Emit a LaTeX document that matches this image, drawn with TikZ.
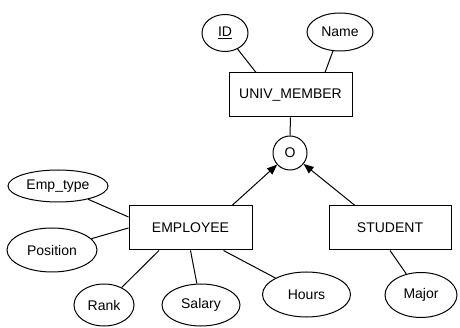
\documentclass[tikz,border=0pt]{standalone}
\usepackage{fontspec}
\setmainfont{Liberation Sans}
\usetikzlibrary{shapes.geometric,arrows.meta}
\begin{document}
\begin{tikzpicture}[x=1pt,y=-1pt,
  every node/.style={font=\fontsize{14}{16}\selectfont, inner sep=0pt},
  entity/.style={draw, line width=1pt, rectangle, minimum width=123pt, minimum height=44pt},
  attr/.style={draw, line width=1pt, ellipse},
  joint/.style={draw, line width=1pt, circle, minimum size=34pt},
  link/.style={line width=1pt},
  isa/.style={line width=1pt, -{Triangle[length=10pt,width=8pt]}}]
\useasboundingbox (0,0) rectangle (460,328);

% entities and the overlap circle
\node[entity] (univ) at (290.5,95) {UNIV\_MEMBER};
\node[joint] (ov) at (290,153) {O};
\node[entity] (employee) at (190.5,228) {EMPLOYEE};
\node[entity, minimum width=122pt] (student) at (390,228) {STUDENT};

% attributes
\node[attr, minimum width=46pt, minimum height=37pt] (id) at (225,33) {\underline{ID}};
\node[attr, minimum width=66pt, minimum height=38pt] (name) at (340,32) {Name};
\node[attr, minimum width=100pt, minimum height=32pt] (emptype) at (58,186) {Emp\_type};
\node[attr, minimum width=90pt, minimum height=44pt] (position) at (52,250) {Position};
\node[attr, minimum width=60pt, minimum height=42pt] (rank) at (104,305) {Rank};
\node[attr, minimum width=78pt, minimum height=42pt] (salary) at (201,305) {Salary};
\node[attr, minimum width=88pt, minimum height=45pt] (hours) at (306.5,294.5) {Hours};
\node[attr, minimum width=72pt, minimum height=45pt] (major) at (421,295) {Major};

% attribute links
\draw[link] (id) -- ([xshift=-34.5pt]univ.north);
\draw[link] (name) -- ([xshift=34.5pt]univ.north);
\draw[link] (emptype) -- ([yshift=11pt]employee.west);
\draw[link] (position) -- (employee.west);
\draw[link] (rank) -- ([xshift=-31.5pt]employee.south);
\draw[link] (salary) -- (employee.south);
\draw[link] (hours) -- ([xshift=33pt]employee.south);
\draw[link] (major) -- (student.south);

% specialisation
\draw[link] (univ.south) -- (ov.north);
\draw[isa] ([xshift=41.5pt]employee.north) -- (ov);
\draw[isa] ([xshift=-35pt]student.north) -- (ov);
\end{tikzpicture}
\end{document}
